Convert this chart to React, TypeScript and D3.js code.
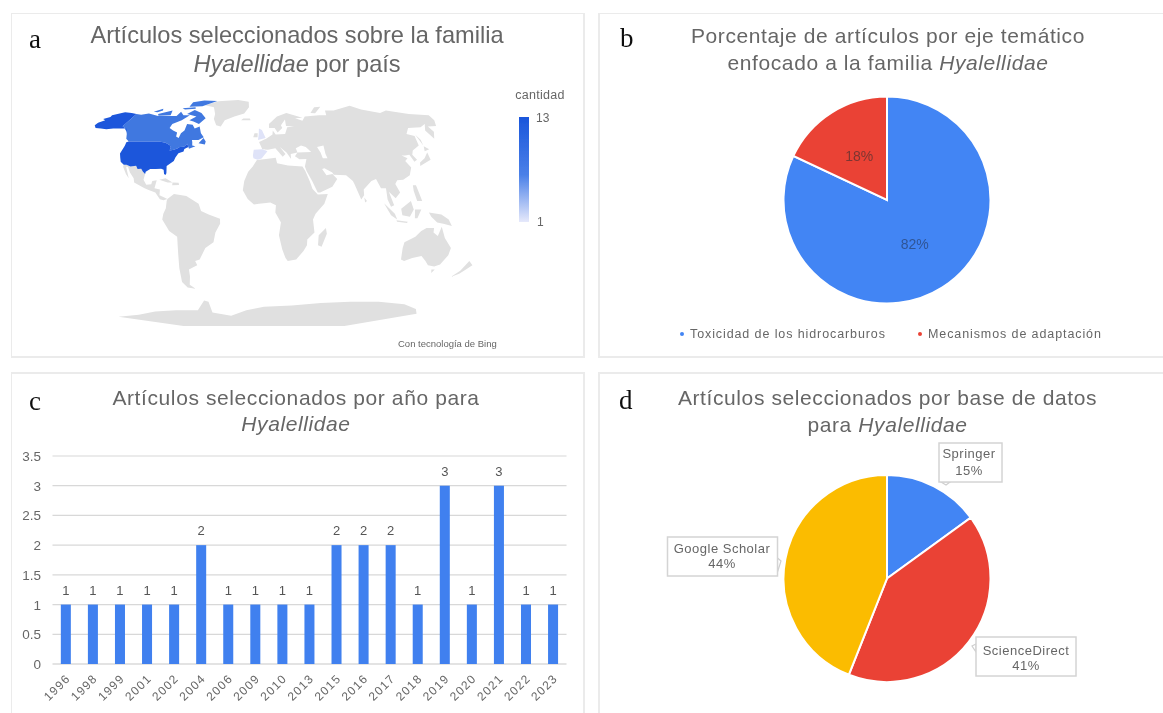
import React from "react";
import * as d3 from "d3";

// ---------- data ----------
const years = ["1996","1998","1999","2001","2002","2004","2006","2009","2010","2013","2015","2016","2017","2018","2019","2020","2021","2022","2023"];
const yearCounts = [1,1,1,1,1,2,1,1,1,1,2,2,2,1,3,1,3,1,1];
const yTicks = [0,0.5,1,1.5,2,2.5,3,3.5];

const themeNames = ["Toxicidad de los hidrocarburos","Mecanismos de adaptación"];
const themeValues = [82,18];
const sourceNames = ["Springer","ScienceDirect","Google Scholar"];
const sourceValues = [15,41,44];

const robinsonLat = [0,5,10,15,20,25,30,35,40,45,50,55,60,65,70,75,80,85,90];
const robinsonLen = [1,.9986,.9954,.99,.9822,.973,.96,.9427,.9216,.8962,.8679,.835,.7986,.7597,.7186,.6732,.6213,.5722,.5322];
const robinsonDrop = [0,.062,.124,.186,.248,.31,.372,.434,.4958,.5571,.6176,.6769,.7346,.7903,.8435,.8936,.9394,.9761,1];

type Ring = number[][];
const usaRings: Ring[] = [
  [[-124.7,48.4],[-123,49],[-95,49],[-89,48],[-84.5,46.5],[-82.5,45],[-82.5,42.5],[-79,43],[-76,44],[-74.7,45],[-71,45.2],[-69,47.3],[-67,45],[-70,43.5],[-70,41.7],[-74,40.6],[-75.5,37.5],[-76,35],[-81,31.5],[-80,26.5],[-80.5,25.2],[-81.8,26],[-82.8,29],[-85,29.7],[-89.5,29.5],[-94,29.5],[-97.2,27.5],[-97.3,26],[-99.5,27.5],[-101.5,29.7],[-104.5,29.5],[-106.5,31.8],[-111,31.3],[-114.8,32.5],[-117.1,32.5],[-120.5,34.5],[-122.5,37.5],[-124.3,40.3],[-124,46]],
  [[-141,70],[-141,60.3],[-137,59],[-132,56],[-135,58.5],[-141,58.5],[-148,58.5],[-154,58],[-160,58.5],[-166,59],[-170,61],[-170,63],[-166,65],[-170,66],[-165,67.5],[-166,69],[-156.5,71.5],[-148,71]],
];
const canadaRings: Ring[] = [
  [[-141,70],[-135,69.5],[-128,70.5],[-115,68.5],[-108,68.5],[-95,68.5],[-94,72],[-88,69],[-81,69],[-86,65],[-93,62],[-93,59],[-88,57],[-83,55.5],[-82,52.5],[-79,51.5],[-79,55],[-77,57],[-78,62],[-72,61.5],[-68,58.5],[-64,60],[-60,55],[-56,52],[-60,50],[-66,50],[-65,48.5],[-64,46],[-61,45.5],[-66,43.7],[-67,45],[-69,47.3],[-71,45.2],[-74.7,45],[-76,44],[-79,43],[-82.5,42.5],[-82.5,45],[-84.5,46.5],[-89,48],[-95,49],[-123,49],[-127,51],[-130,54.5],[-132,56],[-137,59],[-141,60.3]],
  [[-80,73.5],[-70,71],[-62,66.5],[-66,62],[-73,64],[-78,65],[-73,68],[-85,70]],
  [[-117,70],[-105,73],[-102,69],[-115,68.7]],
  [[-90,76.5],[-75,77],[-62,82.5],[-80,83],[-92,81]],
  [[-125,72],[-118,74.5],[-116,73],[-120,71.5]],
  [[-96,75],[-82,76],[-80,74.5],[-92,74]],
  [[-59,47.7],[-53,46.7],[-53,49],[-56,51.5]],
];
const lightRings: Ring[] = [
  [[-9,43],[-1.5,43.4],[3,42],[0,39],[-2,36.8],[-5.5,36],[-9,37],[-9.5,39]],
  [[-5.5,50],[1.5,51.5],[0,54],[-2,57.5],[-5,58.5],[-5,54.5]],
];
const greyRings: Ring[] = [
  [[-73,78],[-60,82],[-35,83.5],[-20,81.5],[-18,76],[-22,70.5],[-32,68],[-41,65],[-43,60],[-48,61],[-53,66],[-54,70],[-60,76]],
  [[-117.1,32.5],[-114.8,32.5],[-111,31.3],[-106.5,31.8],[-104.5,29.5],[-101.5,29.7],[-99.5,27.5],[-97.3,26],[-97.8,22],[-95,18.5],[-91,18.7],[-90.5,21],[-87,21.5],[-88,16],[-83.5,15],[-83.5,11],[-79.5,9.5],[-77,8.5],[-80,7.5],[-83,8.3],[-87,13],[-92,14.5],[-96,16],[-105,20],[-106,23],[-110,27],[-113,31],[-114.5,31],[-110,23],[-113,26],[-117,31]],
  [[-85,22],[-80,23],[-74,20],[-78,20]],
  [[-74,20],[-69,19.8],[-68.5,18.3],[-74,18]],
  [[-77,8.5],[-72,12],[-62,10.5],[-52,5],[-50,0],[-44,-2.5],[-35,-5.5],[-35,-9],[-39,-15],[-41,-22],[-48,-26],[-54,-34],[-58,-35],[-57,-38],[-65,-41],[-66,-46],[-69,-52],[-65,-55],[-72,-54],[-75,-50],[-73,-40],[-71,-30],[-70,-18],[-76,-14],[-81,-6],[-80,-2],[-78,2],[-77.5,7]],
  [[-6,35.8],[10,37.3],[11,33.5],[20,32],[32,31.3],[34,28],[37,21],[39,15.5],[43,11.5],[51,12],[48,5],[41,-2],[39,-6],[40.5,-15],[35,-20],[35,-24],[32.5,-28],[27,-34],[20,-35],[18,-33],[15,-27],[12,-17],[13.5,-8],[9,-1],[9.5,4],[5,6],[-4,5],[-8,4.5],[-13,8.5],[-17,14.5],[-16,21],[-13,27.5],[-9.5,31]],
  [[49.5,-12],[50.5,-16],[47,-25],[44,-24],[44,-17]],
  [[-1.5,43.4],[-4.5,48.5],[2,51],[8,54],[8.5,57],[11,54],[20,54.5],[23,59.5],[30,60],[22,60.5],[22,65.5],[17,61],[18,59],[13,55.5],[10.5,59],[5,59],[5,62],[14,68],[25,71],[41,67],[33,66.5],[40,64.5],[44,68],[60,69],[68,69],[70,73],[80,73],[105,77.5],[113,74],[130,71],[140,73],[160,70],[180,69],[178,65],[172,60.5],[163,60],[163,56],[157,51],[156,57],[163,62],[155,59.5],[142,59],[135,54.5],[141,53],[138,46],[130,42.5],[127.5,39.5],[129.5,36],[126.5,34.5],[125,39.5],[121,39],[118,39],[122,37],[119,35],[122,30.5],[119,25],[113,22],[108,21.5],[106,19],[109,13],[105,9],[100,13.5],[103.5,4],[101,3],[98.5,8],[98,16],[94,16],[91,22.5],[87,21],[80,15],[80,11],[77.5,8],[73,19],[72,21],[67,25],[57,25.5],[56,27],[50,30],[48,29.5],[51,25],[56,26],[59.5,22.5],[55,17],[45,13],[43,13],[39,21],[35,28],[34,31.3],[36,36.5],[30,36.3],[26.5,38.5],[29,41],[41,41.5],[37,45],[33,46],[28,44],[29,41],[26,40.5],[23,40],[23,36.5],[19.5,41],[14,45],[18.5,40],[16,38],[10,44],[3.5,43]],
  [[-10,52],[-6,52],[-6,55],[-9,55]],
  [[-24,65],[-14,65],[-15,66.3],[-22,66.4]],
  [[130,31.5],[136,34],[141,36],[141.5,41],[140,40],[136.5,37],[131,34]],
  [[140,42],[145,43.3],[142,45.5]],
  [[142,46],[143.5,50],[142.5,54],[142,50]],
  [[80,9.5],[82,7],[80.5,6]],
  [[120,18],[122.5,18],[124,13],[126,7],[122,7],[120,14]],
  [[109,1.5],[117,7],[119,1],[116,-4],[110,-3]],
  [[95.5,5.5],[104,-2],[106,-6],[101,-3]],
  [[105.5,-6.5],[114.5,-7.5],[114,-8.5],[106,-7.5]],
  [[120,1],[125,1],[122,-5],[120,-5]],
  [[131,-1],[141,-2.5],[147,-6],[150,-10.5],[143,-9],[138,-8],[133,-4]],
  [[114,-22],[122,-18],[126,-14],[130,-12],[136,-12],[136,-15],[140,-17.5],[142,-11],[146,-19],[153,-26],[153,-31],[150,-37.5],[146,-39],[140,-38],[136,-35],[131,-31.5],[124,-33],[118,-35],[115,-34],[113.5,-26]],
  [[145,-41],[148,-41],[147,-43.5]],
  [[173,-35],[178,-38],[175,-41],[172,-44],[167,-46.5],[171,-42]],
  [[52,71],[57,70.7],[68,76.5],[60,76]],
  [[-180,-78],[-150,-76],[-125,-73],[-100,-72],[-75,-72],[-62,-64],[-58,-65],[-60,-74],[-40,-77],[-20,-72],[0,-69],[30,-68],[60,-66],[90,-65],[120,-65],[150,-67],[170,-71],[180,-75],[120,-90],[0,-90],[-120,-90]],
];
const lakeRings: Ring[] = [[[47,45],[53,46],[53,40],[54,37],[50,37],[49,41]]];

// ---------- helpers ----------
const TXT = "#666666";
const SANS = "'Liberation Sans', Arial, sans-serif";
const SERIF = "'Liberation Serif', 'Times New Roman', serif";

const lenAt = d3.scaleLinear().domain(robinsonLat).range(robinsonLen);
const dropAt = d3.scaleLinear().domain(robinsonLat).range(robinsonDrop);
const robinsonRaw = (lambda: number, phi: number): [number, number] => {
  const deg = Math.abs(phi) * 180 / Math.PI;
  return [0.8487 * lenAt(deg) * lambda, 1.3523 * dropAt(deg) * Math.sign(phi)];
};
const projection = d3.geoProjection(robinsonRaw as any).scale(85).translate([264, 211]);
const ringLine = d3.line().curve(d3.curveLinearClosed);
const ringPath = (rings: Ring[]) =>
  rings.map(r => ringLine(r.map(p => projection(p as [number, number]) as [number, number]))).join(" ");

const Title = ({ x, y1, y2, line1, line2Before, italic, line2After, size = 21, spacing = 0.6 }: any) => (
  <text fill={TXT} fontFamily={SANS} fontSize={size} letterSpacing={spacing} textAnchor="middle">
    <tspan x={x} y={y1}>{line1}</tspan>
    <tspan x={x} y={y2}>{line2Before}<tspan fontStyle="italic">{italic}</tspan>{line2After}</tspan>
  </text>
);
const Letter = ({ x, y, c }: any) => (
  <text x={x} y={y} fontFamily={SERIF} fontSize={27} fill="#111">{c}</text>
);
const Card = ({ x, y, w, h }: any) => (
  <rect x={x} y={y} width={w} height={h} fill="#fff" stroke="#ebebeb" strokeWidth={2} />
);

function Pie({ values, colors, cx, cy, r }: any) {
  const arcs = d3.pie<number>().sort(null)(values);
  const arc = d3.arc<any>().innerRadius(0).outerRadius(r);
  return (
    <g transform={`translate(${cx},${cy})`}>
      {arcs.map((a, i) => <path key={i} d={arc(a) as string} fill={colors[i]} stroke="#fff" strokeWidth={2} />)}
    </g>
  );
}

const pieB = { cx: 887, cy: 200, r: 103.5 };
const pieD = { cx: 887, cy: 578.5, r: 103.5 };
const arcB = d3.arc<any>().innerRadius(0).outerRadius(pieB.r);
const arcsB = d3.pie<number>().sort(null)(themeValues);
const pieLabelColors = ["#2f5596", "#7d3530"];

const Callout = ({ x, y, w, h, tail, name, value, cx, b1, b2 }: any) => (
  <g>
    <path d={tail} fill="#fff" stroke="#cfcfcf" strokeWidth={1.2} />
    <rect x={x} y={y} width={w} height={h} fill="#fff" stroke="#d4d4d4" strokeWidth={1.5} />
    <text fontFamily={SANS} fontSize={13} letterSpacing={0.5} fill={TXT} textAnchor="middle">
      <tspan x={cx} y={b1}>{name}</tspan>
      <tspan x={cx} y={b2}>{value}%</tspan>
    </text>
  </g>
);

export default function App() {
  const x = d3.scaleBand<string>().domain(years).range([52.3, 566.6]).paddingInner(0.63).paddingOuter(0.315);
  const y = d3.scaleLinear().domain([0, 3.5]).range([664, 456]);
  return (
    <svg width={1163} height={713} style={{ position: "absolute", left: 0, top: 0, display: "block", background: "#fff" }}>
      <defs>
        <linearGradient id="legendGrad" x1="0" y1="0" x2="0" y2="1">
          <stop offset="0" stopColor="#1a56db" />
          <stop offset="0.55" stopColor="#4a80e8" />
          <stop offset="1" stopColor="#e6e9fb" />
        </linearGradient>
        <filter id="soft" x="0" y="0" width="100%" height="100%">
          <feGaussianBlur stdDeviation="0.7" />
        </filter>
      </defs>
      <g filter="url(#soft)">
        <Card x={11} y={13} w={573} h={344} />
        <Card x={599} y={13} w={566} h={344} />
        <Card x={11} y={373} w={573} h={345} />
        <Card x={599} y={373} w={566} h={345} />

        {/* a */}
        <Letter x={29} y={48} c="a" />
        <Title x={297} y1={43} y2={72} size={23.6} spacing={0} line1="Artículos seleccionados sobre la familia" italic="Hyalellidae" line2Before="" line2After=" por país" />
        <path d={ringPath(greyRings)} fill="#e0e0e0" />
        <path d={ringPath(lakeRings)} fill="#fff" />
        <path d={ringPath(canadaRings)} fill="#3f78e0" />
        <path d={ringPath(usaRings)} fill="#1a56db" />
        <path d={ringPath(lightRings)} fill="#dfe3f8" />
        <rect x={519} y={117} width={10} height={105} fill="url(#legendGrad)" />
        <text x={540} y={99} fontFamily={SANS} fontSize={12.5} letterSpacing={0.3} fill={TXT} textAnchor="middle">cantidad</text>
        <text x={536} y={122} fontFamily={SANS} fontSize={12} fill={TXT}>13</text>
        <text x={537} y={226} fontFamily={SANS} fontSize={12} fill={TXT}>1</text>
        <text x={398} y={347} fontFamily={SANS} fontSize={9.5} fill={TXT}>Con tecnología de Bing</text>

        {/* b */}
        <Letter x={620} y={47} c="b" />
        <Title x={888} y1={43} y2={70} line1="Porcentaje de artículos por eje temático" line2Before="enfocado a la familia " italic="Hyalellidae" line2After="" />
        <Pie values={themeValues} colors={["#4285f4", "#ea4335"]} {...pieB} />
        {arcsB.map((a, i) => {
          const [dx, dy] = arcB.centroid(a);
          return <text key={i} x={pieB.cx + dx} y={pieB.cy + dy + 5} fontFamily={SANS} fontSize={14} fill={pieLabelColors[i]} textAnchor="middle">{themeValues[i]}%</text>;
        })}
        <circle cx={682} cy={334} r={2} fill="#4285f4" />
        <text x={690} y={338} fontFamily={SANS} fontSize={12.5} fill={TXT} letterSpacing={0.9}>{themeNames[0]}</text>
        <circle cx={920} cy={334} r={2} fill="#ea4335" />
        <text x={928} y={338} fontFamily={SANS} fontSize={12.5} fill={TXT} letterSpacing={0.9}>{themeNames[1]}</text>

        {/* c */}
        <Letter x={29} y={410} c="c" />
        <Title x={296} y1={405} y2={431} line1="Artículos seleccionados por año para" line2Before="" italic="Hyalellidae" line2After="" />
        {yTicks.map(t => (
          <g key={t}>
            <line x1={52.5} x2={566.5} y1={y(t)} y2={y(t)} stroke={t === 0 ? "#c8c8c8" : "#d8d8d8"} strokeWidth={1.2} />
            <text x={41} y={y(t) + 5} fontFamily={SANS} fontSize={13.5} fill={TXT} textAnchor="end">{String(t)}</text>
          </g>
        ))}
        {years.map((yr, i) => {
          const bx = x(yr) as number;
          const mid = bx + x.bandwidth() / 2;
          return (
            <g key={yr}>
              <rect x={bx} y={y(yearCounts[i])} width={x.bandwidth()} height={664 - y(yearCounts[i])} fill="#3f80ef" />
              <text x={mid} y={y(yearCounts[i]) - 10} fontFamily={SANS} fontSize={13} fill="#555" textAnchor="middle">{yearCounts[i]}</text>
              <text transform={`translate(${mid + 1},${675}) rotate(-45)`} fontFamily={SANS} fontSize={12} fill={TXT} textAnchor="end" letterSpacing={1.2} dy="0.5em">{yr}</text>
            </g>
          );
        })}

        {/* d */}
        <Letter x={619} y={409} c="d" />
        <Title x={887.5} y1={405} y2={432} line1="Artículos seleccionados por base de datos" line2Before="para " italic="Hyalellidae" line2After="" />
        <Pie values={sourceValues} colors={["#4285f4", "#ea4335", "#fbbc04"]} {...pieD} />
        <Callout x={939} y={443} w={63} h={39} cx={969} b1={458} b2={475} name={sourceNames[0]} value={sourceValues[0]} tail="M941,482 L946,485 L950,482 Z" />
        <Callout x={976} y={637} w={100} h={39} cx={1026} b1={655} b2={670} name={sourceNames[1]} value={sourceValues[1]} tail="M976,644 L972,646 L976,652 Z" />
        <Callout x={667.5} y={537} w={110} h={39} cx={722} b1={553} b2={568} name={sourceNames[2]} value={sourceValues[2]} tail="M777.5,558 L781,561 L777.5,572 Z" />
      </g>
    </svg>
  );
}
